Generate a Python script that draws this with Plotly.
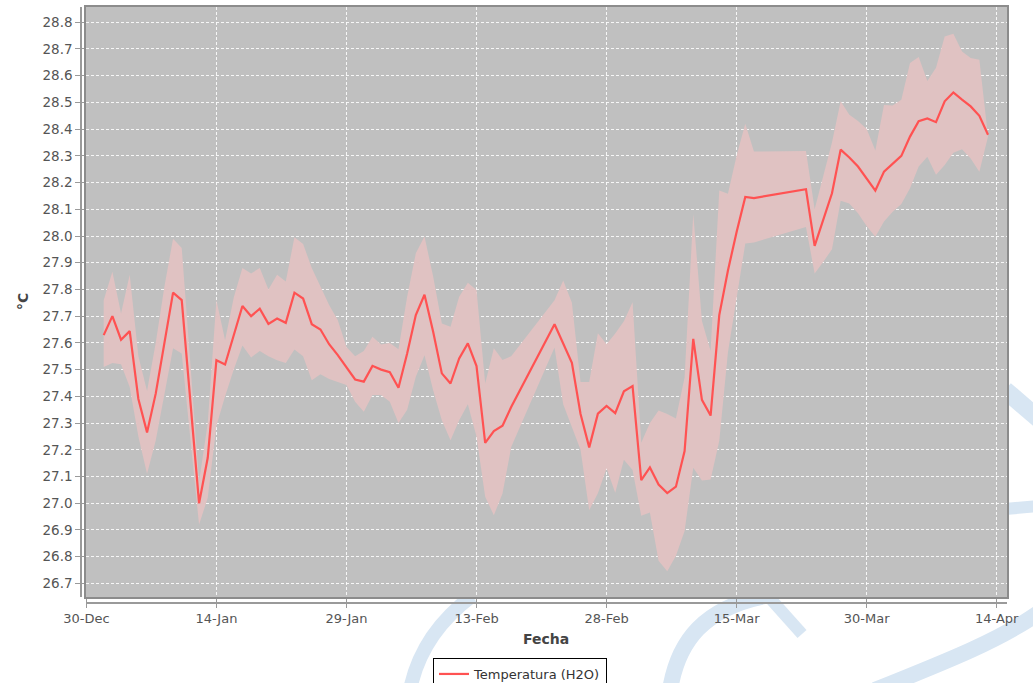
import plotly.graph_objects as go

# ---------------- data ----------------
dates = [
    "2021-01-01", "2021-01-02", "2021-01-03", "2021-01-04", "2021-01-05", "2021-01-06",
    "2021-01-07", "2021-01-08", "2021-01-09", "2021-01-10", "2021-01-11", "2021-01-12",
    "2021-01-13", "2021-01-14", "2021-01-15", "2021-01-16", "2021-01-17", "2021-01-18",
    "2021-01-19", "2021-01-20", "2021-01-21", "2021-01-22", "2021-01-23", "2021-01-24",
    "2021-01-25", "2021-01-26", "2021-01-27", "2021-01-28", "2021-01-29", "2021-01-30",
    "2021-01-31", "2021-02-01", "2021-02-02", "2021-02-03", "2021-02-04", "2021-02-05",
    "2021-02-06", "2021-02-07", "2021-02-08", "2021-02-09", "2021-02-10", "2021-02-11",
    "2021-02-12", "2021-02-13", "2021-02-14", "2021-02-15", "2021-02-16", "2021-02-17",
    "2021-02-22", "2021-02-23", "2021-02-24", "2021-02-25", "2021-02-26", "2021-02-27",
    "2021-02-28", "2021-03-01", "2021-03-02", "2021-03-03", "2021-03-04", "2021-03-05",
    "2021-03-06", "2021-03-07", "2021-03-08", "2021-03-09", "2021-03-10", "2021-03-11",
    "2021-03-12", "2021-03-13", "2021-03-14", "2021-03-15", "2021-03-16", "2021-03-17",
    "2021-03-23", "2021-03-24", "2021-03-25", "2021-03-26", "2021-03-27", "2021-03-28",
    "2021-03-29", "2021-03-30", "2021-03-31", "2021-04-01", "2021-04-02", "2021-04-03",
    "2021-04-04", "2021-04-05", "2021-04-06", "2021-04-07", "2021-04-08", "2021-04-09",
    "2021-04-10", "2021-04-11", "2021-04-12", "2021-04-13",
]

temp_mean = [
    27.629, 27.700, 27.612, 27.644, 27.390, 27.265,
    27.410, 27.600, 27.788, 27.760, 27.370, 27.000,
    27.170, 27.535, 27.519, 27.630, 27.738, 27.700,
    27.728, 27.671, 27.691, 27.675, 27.788, 27.766,
    27.670, 27.650, 27.595, 27.554, 27.510, 27.463,
    27.455, 27.514, 27.500, 27.490, 27.432, 27.560,
    27.704, 27.780, 27.642, 27.486, 27.448, 27.542,
    27.598, 27.513, 27.226, 27.270, 27.290, 27.360,
    27.670, 27.600, 27.525, 27.334, 27.209, 27.335,
    27.364, 27.337, 27.419, 27.438, 27.086, 27.134,
    27.070, 27.038, 27.062, 27.195, 27.615, 27.387,
    27.328, 27.704, 27.871, 28.015, 28.146, 28.142,
    28.175, 27.963, 28.060, 28.160, 28.323, 28.294,
    28.260, 28.216, 28.170, 28.241, 28.272, 28.300,
    28.372, 28.430, 28.440, 28.426, 28.504, 28.537,
    28.510, 28.485, 28.450, 28.379,
]

temp_upper = [
    27.760, 27.866, 27.710, 27.855, 27.550, 27.420,
    27.600, 27.810, 27.990, 27.955, 27.520, 27.080,
    27.300, 27.760, 27.610, 27.770, 27.880, 27.860,
    27.880, 27.800, 27.855, 27.830, 27.995, 27.970,
    27.880, 27.810, 27.742, 27.685, 27.585, 27.550,
    27.570, 27.623, 27.594, 27.600, 27.576, 27.773,
    27.935, 27.998, 27.848, 27.673, 27.660, 27.773,
    27.825, 27.798, 27.448, 27.580, 27.536, 27.550,
    27.760, 27.833, 27.750, 27.454, 27.454, 27.636,
    27.595, 27.635, 27.681, 27.752, 27.226, 27.300,
    27.347, 27.334, 27.317, 27.470, 28.082, 27.682,
    27.570, 28.170, 28.158, 28.300, 28.420, 28.316,
    28.318, 28.100, 28.230, 28.350, 28.504, 28.454,
    28.430, 28.400, 28.320, 28.490, 28.488, 28.510,
    28.647, 28.670, 28.580, 28.630, 28.747, 28.757,
    28.690, 28.666, 28.660, 28.385,
]

temp_lower = [
    27.510, 27.525, 27.520, 27.435, 27.250, 27.110,
    27.235, 27.410, 27.580, 27.560, 27.250, 26.920,
    27.020, 27.290, 27.400, 27.500, 27.590, 27.545,
    27.570, 27.550, 27.535, 27.525, 27.575, 27.550,
    27.460, 27.483, 27.465, 27.455, 27.442, 27.380,
    27.342, 27.405, 27.405, 27.380, 27.300, 27.350,
    27.473, 27.554, 27.423, 27.310, 27.236, 27.310,
    27.370, 27.250, 27.024, 26.955, 27.036, 27.210,
    27.583, 27.370, 27.285, 27.200, 26.974, 27.037,
    27.131, 27.039, 27.163, 27.124, 26.953, 26.965,
    26.785, 26.745, 26.803, 26.896, 27.133, 27.085,
    27.089, 27.234, 27.565, 27.770, 27.972, 27.976,
    28.034, 27.860, 27.904, 27.950, 28.132, 28.122,
    28.085, 28.037, 27.997, 28.054, 28.091, 28.120,
    28.179, 28.260, 28.297, 28.229, 28.266, 28.312,
    28.325, 28.290, 28.240, 28.372,
]

tick_dates = ["2020-12-30", "2021-01-14", "2021-01-29", "2021-02-13",
              "2021-02-28", "2021-03-15", "2021-03-30", "2021-04-14"]
tick_labels = ["30-Dec", "14-Jan", "29-Jan", "13-Feb", "28-Feb", "15-Mar", "30-Mar", "14-Apr"]

series_name = "Temperatura (H2O)"
x_title = "Fecha"
y_title = "°C"

# ---------------- layout geometry ----------------
W, H = 1033, 683
ML, MR, MT, MB = 86, 26, 7, 86
PW, PH = W - ML - MR, H - MT - MB


def px(x, y):
    return ((x - ML) / PW, (H - MB - y) / PH)


def path_from_pixels(cmds):
    out = []
    for c in cmds:
        if isinstance(c, str):
            out.append(c)
        else:
            a, b = px(*c)
            out.append(f"{a:.5f},{b:.5f}")
    return " ".join(out)


wm_color = "#d8e6f3"
watermark = [
    (["M", (410, 690), "C", (418, 650), (440, 620), (472, 596)], 14),
    (["M", (670, 690), "C", (678, 640), (705, 608), (765, 596)], 16),
    (["M", (768, 596), "L", (802, 634)], 12),
    (["M", (1005, 390), "L", (1040, 420)], 18),
    (["M", (1005, 509), "L", (1040, 506)], 12),
    (["M", (875, 690), "C", (950, 660), (1000, 640), (1040, 612)], 16),
]

shapes = []
for cmds, w in watermark:
    shapes.append(dict(type="path", xref="paper", yref="paper",
                       path=path_from_pixels(cmds),
                       line=dict(color=wm_color, width=w), layer="below"))
# plot background drawn over watermark
shapes.append(dict(type="rect", xref="paper", yref="paper", x0=0, x1=1, y0=0, y1=1,
                   fillcolor="#c0c0c0", line=dict(width=0), layer="below"))
# offset axis lines (JFreeChart style)
ax_x, _ = px(81, 0)
_, ax_y = px(0, 603)
shapes.append(dict(type="line", xref="paper", yref="paper", x0=ax_x, x1=ax_x, y0=0, y1=1,
                   line=dict(color="#9a9a9a", width=2), layer="above"))
shapes.append(dict(type="line", xref="paper", yref="paper", x0=0, x1=1, y0=ax_y, y1=ax_y,
                   line=dict(color="#9a9a9a", width=2), layer="above"))

fig = go.Figure()
fig.add_trace(go.Scatter(
    x=dates + dates[::-1], y=temp_upper + temp_lower[::-1],
    fill="toself", fillcolor="#e0c2c2", line=dict(width=0),
    mode="lines", showlegend=False, hoverinfo="skip"))
fig.add_trace(go.Scatter(
    x=dates, y=temp_mean, mode="lines", name=series_name,
    line=dict(color="#ff5252", width=2.2)))

font_family = "DejaVu Sans"
lx, ly = px(520, 658)
tx, ty = px(546, 639)
yx, yy = px(23, 302)

grid_style = dict(showgrid=True, gridcolor="rgba(255,255,255,0.85)",
                  griddash="3px,2px", gridwidth=0.7)

fig.update_layout(
    width=W, height=H, autosize=False,
    margin=dict(l=ML, r=MR, t=MT, b=MB, pad=0, autoexpand=False),
    paper_bgcolor="white", plot_bgcolor="rgba(0,0,0,0)",
    font=dict(family=font_family, size=13, color="#444444"),
    shapes=shapes,
    showlegend=True,
    legend=dict(x=lx, y=ly, xanchor="center", yanchor="top", orientation="h",
                bordercolor="black", borderwidth=1, bgcolor="white",
                font=dict(family=font_family, size=13, color="#333333"),
                itemwidth=30, tracegroupgap=0),
    annotations=[
        dict(text=x_title, xref="paper", yref="paper", x=tx, y=ty, showarrow=False,
             xanchor="center", yanchor="middle",
             font=dict(family=font_family, size=14, color="#444444", weight="bold")),
        dict(text=y_title, xref="paper", yref="paper", x=yx, y=yy, showarrow=False,
             xanchor="center", yanchor="middle", textangle=-90,
             font=dict(family=font_family, size=14, color="#444444", weight="bold")),
    ],
    xaxis=dict(
        type="date", range=["2020-12-29 23:00", "2021-04-15 04:30"],
        tickvals=tick_dates, ticktext=tick_labels,
        showline=True, linecolor="#8c8c8c", linewidth=1.5, mirror=True,
        ticks="outside", ticklen=9, tickcolor="#9a9a9a", tickwidth=1,
        tickfont=dict(family=font_family, size=13, color="#555555"),
        zeroline=False, fixedrange=True, **grid_style,
    ),
    yaxis=dict(
        range=[26.649, 28.857], tick0=26.7, dtick=0.1, tickformat=".1f",
        showline=True, linecolor="#8c8c8c", linewidth=1.5, mirror=True,
        ticks="outside", ticklen=9, tickcolor="#9a9a9a", tickwidth=1,
        tickfont=dict(family=font_family, size=13.5, color="#555555"),
        zeroline=False, fixedrange=True, **grid_style,
    ),
)

fig.write_html("out.html",
               config={"displayModeBar": False, "staticPlot": False},
               post_script="document.body.style.margin='0';document.body.style.overflow='hidden';")
